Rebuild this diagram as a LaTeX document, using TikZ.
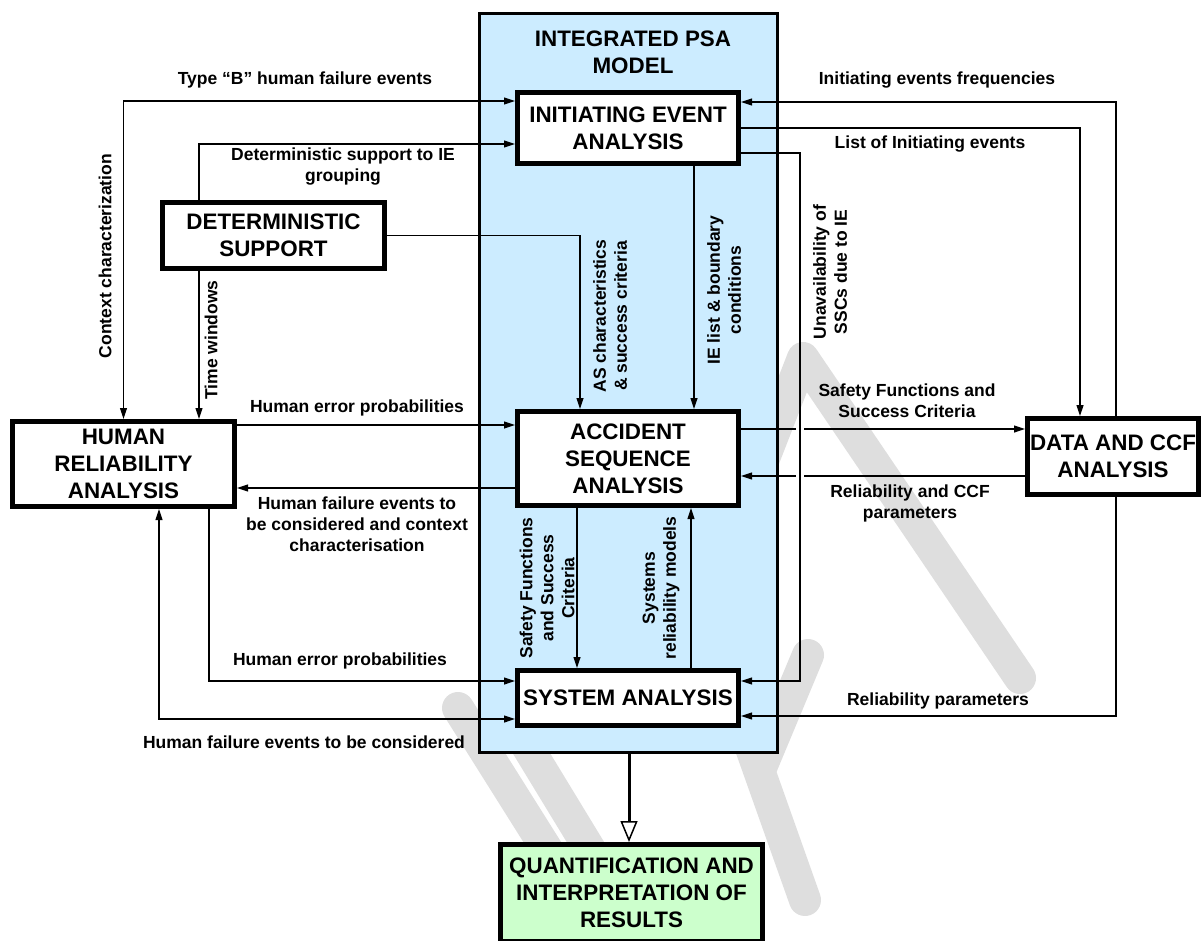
\documentclass[tikz,border=0pt]{standalone}
\usepackage{fontspec}
\setmainfont{Liberation Sans}
\usetikzlibrary{arrows.meta}
\definecolor{psablue}{HTML}{CCECFF}
\definecolor{quantgreen}{HTML}{CCFFCC}
\definecolor{wmgray}{HTML}{DEDEDE}
\newcommand\dgTitle{\fontsize{22.4}{27}\selectfont\bfseries}
\newcommand\dgLab{\fontsize{17.5}{21}\selectfont\bfseries}
\begin{document}
\begin{tikzpicture}[x=1pt,y=-1pt,
  >={Triangle[length=11pt,width=7pt]},
  conn/.style={line width=1.1pt},
  box/.style={draw, line width=5pt, fill=white, inner sep=0pt, outer sep=2.5pt, align=center, font=\dgTitle},
  psabox/.style={draw, line width=3pt, fill=psablue, inner sep=0pt, outer sep=1.5pt},
  lab/.style={align=center, inner sep=0pt, font=\dgLab},
  wm/.style={draw=wmgray, line width=32pt, line cap=round, line join=round}]
\useasboundingbox (0,0) rectangle (1204,940);
% watermark
\draw[wm] (740,520) -- (803,358) -- (1020,678);
\draw[wm] (458,708) -- (590,918);
\draw[wm] (527,746) -- (600,866);
\draw[wm] (750,745) -- (805,900);
\draw[wm] (808,655) -- (760,770);
% integrated PSA model
\node[psabox, minimum width=298, minimum height=739] (psa) at (628.5,383) {};
\node[lab, font=\dgTitle] (psat) at (633,52.5) {INTEGRATED PSA\\MODEL};
% boxes
\node[box, minimum width=221, minimum height=71] (ie) at (628,128) {INITIATING EVENT\\ANALYSIS};
\node[box, minimum width=221, minimum height=94] (as) at (628,458.5) {ACCIDENT\\SEQUENCE\\ANALYSIS};
\node[box, minimum width=221, minimum height=55] (sa) at (628,698) {SYSTEM ANALYSIS};
\node[box, minimum width=222, minimum height=66] (det) at (273.5,235.5) {DETERMINISTIC\\SUPPORT};
\node[box, minimum width=222, minimum height=85] (hra) at (123.5,464) {HUMAN\\RELIABILITY\\ANALYSIS};
\node[box, minimum width=171, minimum height=76] (data) at (1113,456.5) {DATA AND CCF\\ANALYSIS};
\node[box, fill=quantgreen, minimum width=262, minimum height=97] (quant) at (631.5,893) {QUANTIFICATION AND\\INTERPRETATION OF\\RESULTS};
% connectors
\draw[conn,<->] (hra.north) |- (ie.west |- 0,101);
\draw[conn,->] (det.north -| 199,0) |- (ie.west |- 0,144);
\draw[conn,->] (det.south -| 199,0) -- (hra.north -| 199,0);
\draw[conn,->] (det.east) -| (as.north -| 580,0);
\draw[conn,->] (ie.south -| 694,0) -- (as.north -| 694,0);
\draw[conn,->] (data.north -| 1116,0) |- (ie.east |- 0,102);
\draw[conn,->] (ie.east) -| (data.north -| 1080,0);
\draw[conn,->] (hra.east |- 0,425) -- (as.west |- 0,425);
\draw[conn,->] (as.west |- 0,488) -- (hra.east |- 0,488);
\draw[conn,->] (as.east |- 0,429) -- (data.west |- 0,429);
\draw[conn,->] (data.west |- 0,476) -- (as.east |- 0,476);
\fill[white] (796,425.5) rectangle (804,432.5);
\fill[white] (796,472.5) rectangle (804,479.5);
\coordinate (u1) at (800,153);
\coordinate (u2) at (800,681);
\draw[conn,->] (ie.east |- u1) -- (u1) -- (u2) -- (sa.east |- u2);
\draw[conn,->] (hra.south -| 209,0) |- (sa.west |- 0,681);
\draw[conn,<->] (hra.south -| 159,0) |- (sa.west |- 0,719);
\draw[conn,->] (as.south -| 577,0) -- (sa.north -| 577,0);
\draw[conn,->] (sa.north -| 691,0) -- (as.south -| 691,0);
\draw[conn,->] (data.south -| 1116,0) |- (sa.east |- 0,716);
\draw[line width=3pt, -{Triangle[open,length=21pt,width=17pt,line width=1.5pt,fill=white]}] (psa.south -| 629,0) -- (quant.north -| 629,0);
% labels
\node[lab] (l1) at (305,80) {Type “B” human failure events};
\node[lab] (l2) at (343,166.5) {Deterministic support to IE\\grouping};
\node[lab, rotate=90] (l3) at (105,256) {Context characterization};
\node[lab, rotate=90] (l4) at (211,340) {Time windows};
\node[lab, rotate=90] (l5) at (610,316) {AS characteristics\\\& success criteria};
\node[lab, rotate=90] (l6) at (724,290) {IE list \& boundary\\conditions};
\node[lab, rotate=90] (l7) at (830,272) {Unavailability of\\SSCs due to IE};
\node[lab] (l8) at (357,408) {Human error probabilities};
\node[lab] (l9) at (357,524) {Human failure events to\\be considered and context\\characterisation};
\node[lab] (l10) at (340,661) {Human error probabilities};
\node[lab] (l11) at (304,742) {Human failure events to be considered};
\node[lab, rotate=90] (l12) at (547,588) {Safety Functions\\and Success\\Criteria};
\node[lab, rotate=90] (l13) at (661,588) {Systems\\reliability models};
\node[lab] (l14) at (937,80) {Initiating events frequencies};
\node[lab] (l15) at (930,144) {List of Initiating events};
\node[lab] (l16) at (907,400.5) {Safety Functions and\\Success Criteria};
\node[lab] (l17) at (910,503.5) {Reliability and CCF\\parameters};
\node[lab] (l18) at (938,701) {Reliability parameters};
\end{tikzpicture}
\end{document}
